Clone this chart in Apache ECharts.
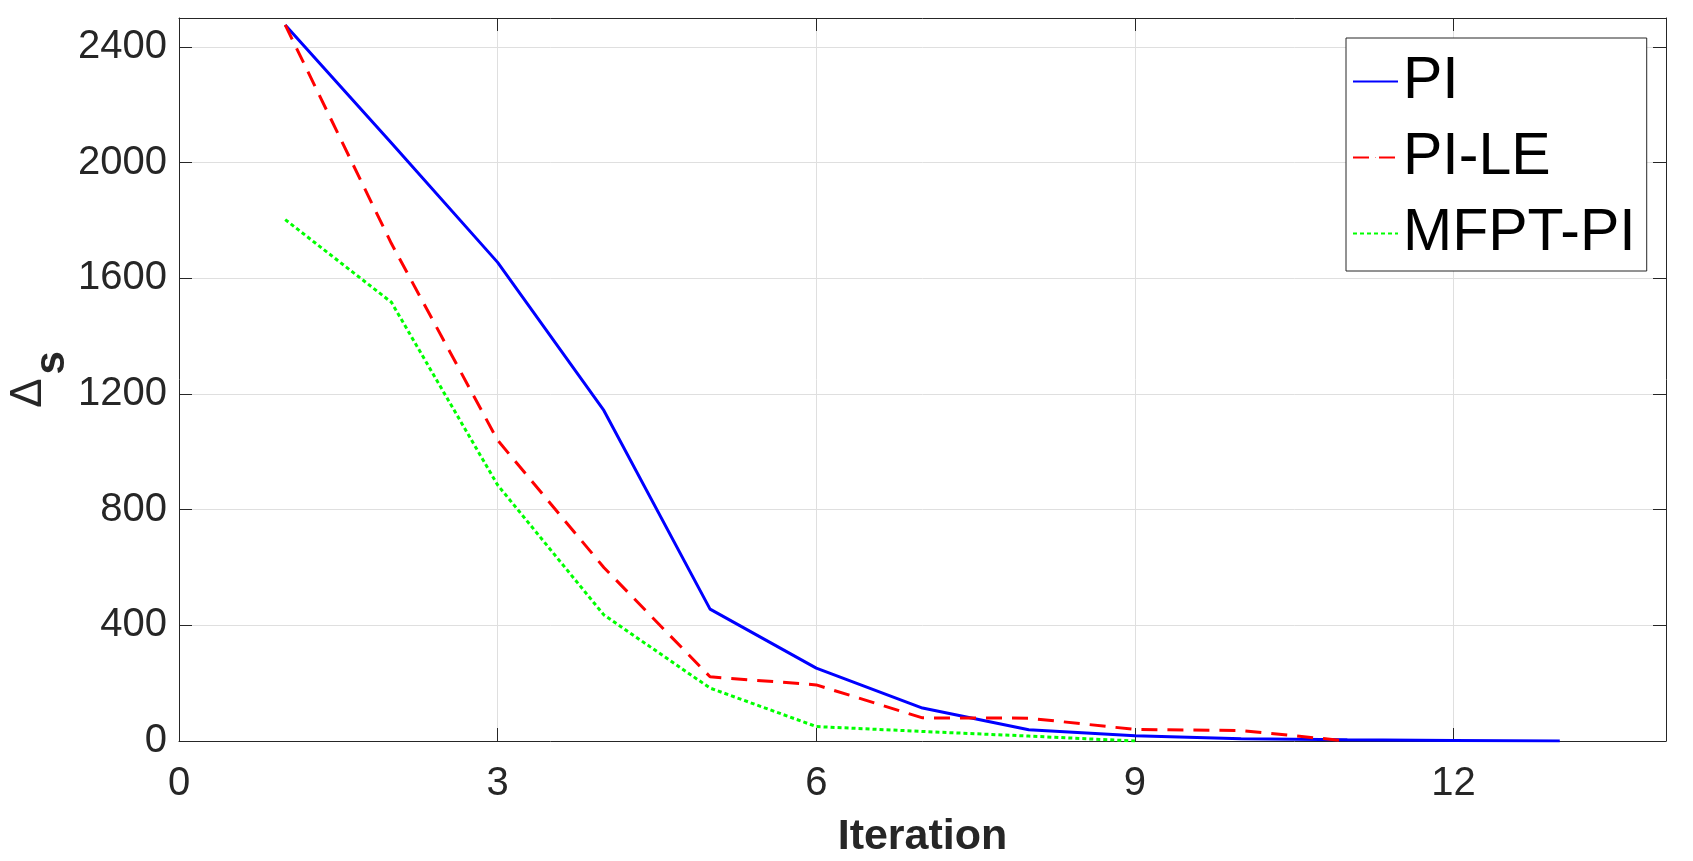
<!DOCTYPE html>
<html>
<head>
<meta charset="utf-8">
<script src="https://cdn.jsdelivr.net/npm/echarts@6/dist/echarts.min.js"></script>
<style>
html,body{margin:0;padding:0;background:#fff;}
#chart{width:1693px;height:861px;}
</style>
</head>
<body>
<div id="chart"></div>
<script>
var piIter   = [1,2,3,4,5,6,7,8,9,10,11,12,13];
var piValues = [2476,2068,1655,1143,456,252,114,39,18,8,4,2,0];
var pileIter   = [1,2,3,4,5,6,7,8,9,10,11];
var pileValues = [2476,1720,1040,600,222,194,80,79,40,36,0];
var mfptIter   = [1,2,3,4,5,6,7,8,9];
var mfptValues = [1803,1517,885,436,183,50,33,17,0];
var seriesNames = ['PI','PI-LE','MFPT-PI'];
var xTicks = [0,3,6,9,12];
var yTicks = [0,400,800,1200,1600,2000,2400];

function pairs(xs, ys){ return xs.map(function(x,i){ return [x, ys[i]]; }); }

var FONT = "'Liberation Sans', Arial, Helvetica, sans-serif";
var AX = '#262626';
var chart = echarts.init(document.getElementById('chart'), null, {renderer:'canvas'});

function baseAxis(extra){
  var o = {
    type:'value',
    axisLine:{show:true, onZero:false, lineStyle:{color:AX, width:1}},
    axisTick:{show:true, inside:true, length:13, lineStyle:{color:AX, width:1}},
    splitLine:{show:false}
  };
  for (var k in extra) o[k] = extra[k];
  return o;
}

var option = {
  animation:false,
  backgroundColor:'#ffffff',
  grid:{left:179, right:27, top:18, bottom:120, containLabel:false, outerBoundsMode:'none'},
  legend:{
    orient:'vertical',
    left:1346, top:38,
    padding:[14,11,8,6],
    backgroundColor:'#ffffff',
    borderColor:AX, borderWidth:1, borderRadius:0,
    itemWidth:45, itemHeight:1, itemGap:17,
    textStyle:{fontFamily:FONT, fontSize:59, color:'#000000', padding:[0,0,0,0]},
    data:seriesNames
  },
  xAxis:[
    baseAxis({
      min:0, max:14, interval:3, position:'bottom',
      name:'Iteration', nameLocation:'middle', nameGap:75, nameMoveOverlap:false,
      nameTextStyle:{fontFamily:FONT, fontSize:43, fontWeight:'bold', color:AX},
      axisLabel:{show:true, margin:23, fontFamily:FONT, fontSize:40, color:AX, showMaxLabel:false,
        formatter:function(v){ return xTicks.indexOf(v) >= 0 ? String(v) : ''; }},
      splitLine:{show:true, lineStyle:{color:'#dfdfdf', width:1}}
    }),
    baseAxis({min:0, max:14, interval:3, position:'top', axisLabel:{show:false}})
  ],
  yAxis:[
    baseAxis({
      min:0, max:2500, interval:400, position:'left',
      name:'{d|Δ}{s|s}', nameLocation:'middle', nameGap:106, nameRotate:90, nameMoveOverlap:false,
      nameTextStyle:{fontFamily:FONT, color:AX,
        rich:{
          d:{fontFamily:FONT, fontSize:44, color:AX, verticalAlign:'top', lineHeight:44},
          s:{fontFamily:FONT, fontSize:42, fontWeight:'bold', color:AX, verticalAlign:'bottom', lineHeight:66, padding:[0,0,0,4]}
        }},
      axisLabel:{show:true, margin:12, fontFamily:FONT, fontSize:40, color:AX, showMaxLabel:false,
        formatter:function(v){ return yTicks.indexOf(v) >= 0 ? String(v) : ''; }},
      splitLine:{show:true, lineStyle:{color:'#dfdfdf', width:1}}
    }),
    baseAxis({min:0, max:2500, interval:400, position:'right', axisLabel:{show:false}})
  ],
  series:[
    {name:seriesNames[0], type:'line', data:pairs(piIter, piValues), symbol:'none', showSymbol:false,
     itemStyle:{color:'#0000ff'}, lineStyle:{color:'#0000ff', width:3, type:'solid'}, z:3},
    {name:seriesNames[1], type:'line', data:pairs(pileIter, pileValues), symbol:'none', showSymbol:false,
     itemStyle:{color:'#ff0000'}, lineStyle:{color:'#ff0000', width:3, type:[16,10]}, z:4},
    {name:seriesNames[2], type:'line', data:pairs(mfptIter, mfptValues), symbol:'none', showSymbol:false,
     itemStyle:{color:'#00ff00'}, lineStyle:{color:'#00ff00', width:3, type:[4,3]}, z:5}
  ]
};
chart.setOption(option);
</script>
</body>
</html>
